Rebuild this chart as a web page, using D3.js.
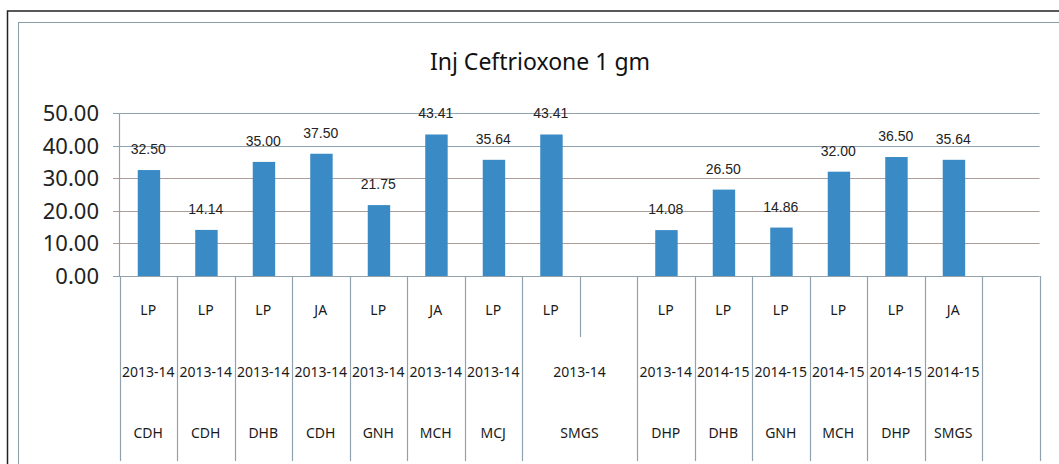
<!DOCTYPE html>
<html>
<head>
<meta charset="utf-8">
<script src="https://cdn.jsdelivr.net/npm/d3@7"></script>
<style>
  html, body { margin: 0; padding: 0; background: #fff; }
  svg { display: block; }
</style>
</head>
<body>
<svg id="chart" width="1059" height="464"></svg>
<script>
// Chart data (one entry per category slot, blanks are empty slots)
const schemes = ['LP', 'LP', 'LP', 'JA', 'LP', 'JA', 'LP', 'LP', '', 'LP', 'LP', 'LP', 'LP', 'LP', 'JA', ''];
const years = ['2013-14', '2013-14', '2013-14', '2013-14', '2013-14', '2013-14', '2013-14', '2013-14', '', '2013-14', '2014-15', '2014-15', '2014-15', '2014-15', '2014-15', ''];
const sites = ['CDH', 'CDH', 'DHB', 'CDH', 'GNH', 'MCH', 'MCJ', 'SMGS', '', 'DHP', 'DHB', 'GNH', 'MCH', 'DHP', 'SMGS', ''];
// how many slots the year / site label covers (0 = merged into the previous slot)
const spans = [1, 1, 1, 1, 1, 1, 1, 2, 0, 1, 1, 1, 1, 1, 1, 1];
const values = [32.50, 14.14, 35.00, 37.50, 21.75, 43.41, 35.64, 43.41, null, 14.08, 26.50, 14.86, 32.00, 36.50, 35.64, null];
const yTicks = [0, 10, 20, 30, 40, 50];
const title = 'Inj Ceftrioxone 1 gm';

const svg = d3.select('#chart');

// Frames
svg.append('rect')
  .attr('x', 7.5).attr('y', 11).attr('width', 1100).attr('height', 500)
  .attr('fill', 'none').attr('stroke', '#222').attr('stroke-width', 1.5);
svg.append('rect')
  .attr('x', 18.5).attr('y', 22.5).attr('width', 1100).attr('height', 500)
  .attr('fill', 'none').attr('stroke', '#8a9ca6').attr('stroke-width', 1);

const left = 119.5, right = 1039.5;
const x = d3.scaleBand().domain(d3.range(schemes.length)).range([left, right]).padding(0);
const y = d3.scaleLinear().domain([0, 50]).range([276, 113]);

const rowTop = 276, row1 = 337, rowBottom = 461;

// Title
svg.append('text')
  .attr('x', 540).attr('y', 70)
  .attr('text-anchor', 'middle')
  .attr('font-family', 'Noto Sans, sans-serif')
  .attr('font-size', 23)
  .attr('fill', '#111')
  .text(title);

// Gridlines + y labels
const grid = svg.append('g');
grid.selectAll('line')
  .data(yTicks)
  .join('line')
  .attr('x1', 113).attr('x2', right)
  .attr('y1', (d) => Math.round(y(d)) + 0.5)
  .attr('y2', (d) => Math.round(y(d)) + 0.5)
  .attr('stroke', (d) => (d === 0 || d >= 40 ? '#8fa2ae' : '#ad9d98'))
  .attr('stroke-width', 1.2);

grid.selectAll('text')
  .data(yTicks)
  .join('text')
  .attr('x', 99)
  .attr('y', (d) => y(d))
  .attr('dy', '0.36em')
  .attr('text-anchor', 'end')
  .attr('font-family', 'Noto Sans, sans-serif')
  .attr('font-size', 22)
  .attr('fill', '#222')
  .text((d) => d3.format('.2f')(d));

// Y axis line
svg.append('line')
  .attr('x1', left).attr('x2', left)
  .attr('y1', y(50)).attr('y2', rowTop)
  .attr('stroke', '#8fa2ae').attr('stroke-width', 1.2);

// Bars
const barW = x.bandwidth() * 0.39;
const barData = values.map((v, i) => ({ i, v })).filter((d) => d.v !== null);

svg.append('g')
  .selectAll('rect')
  .data(barData)
  .join('rect')
  .attr('x', (d) => x(d.i) + (x.bandwidth() - barW) / 2 + 0.7)
  .attr('y', (d) => y(d.v))
  .attr('width', barW)
  .attr('height', (d) => y(0) - y(d.v))
  .attr('fill', '#3a8bc5');

svg.append('g')
  .selectAll('text')
  .data(barData)
  .join('text')
  .attr('x', (d) => x(d.i) + x.bandwidth() / 2)
  .attr('y', (d) => y(d.v) - 16)
  .attr('text-anchor', 'middle')
  .attr('font-family', 'Liberation Sans, sans-serif')
  .attr('font-size', 14)
  .attr('fill', '#222')
  .text((d) => d3.format('.2f')(d.v));

// Category axis: separators
const sep = svg.append('g').attr('stroke', '#8fa2ae').attr('stroke-width', 1.2);
const edges = d3.range(schemes.length + 1);
sep.selectAll('line.top')
  .data(edges)
  .join('line')
  .attr('class', 'top')
  .attr('x1', (d) => Math.round(left + d * x.step()) + 0.5)
  .attr('x2', (d) => Math.round(left + d * x.step()) + 0.5)
  .attr('y1', rowTop)
  .attr('y2', (d) => (spans[d] === 0 ? row1 : rowBottom));

// Category labels
const labelFont = (sel) => sel
  .attr('text-anchor', 'middle')
  .attr('font-family', 'Noto Sans, sans-serif')
  .attr('font-size', 14)
  .attr('fill', '#1a1a1a');

svg.append('g')
  .selectAll('text')
  .data(schemes)
  .join('text')
  .attr('x', (d, i) => x(i) + x.bandwidth() / 2)
  .attr('y', 310)
  .attr('dy', '0.36em')
  .call(labelFont)
  .text((d) => d);

const groups = spans.map((s, i) => ({ i, s })).filter((d) => d.s > 0);

svg.append('g')
  .selectAll('text')
  .data(groups)
  .join('text')
  .attr('x', (d) => x(d.i) + (x.step() * d.s) / 2)
  .attr('y', 372)
  .attr('dy', '0.36em')
  .call(labelFont)
  .text((d) => years[d.i]);

svg.append('g')
  .selectAll('text')
  .data(groups)
  .join('text')
  .attr('x', (d) => x(d.i) + (x.step() * d.s) / 2)
  .attr('y', 433)
  .attr('dy', '0.36em')
  .call(labelFont)
  .text((d) => sites[d.i]);
</script>
</body>
</html>
